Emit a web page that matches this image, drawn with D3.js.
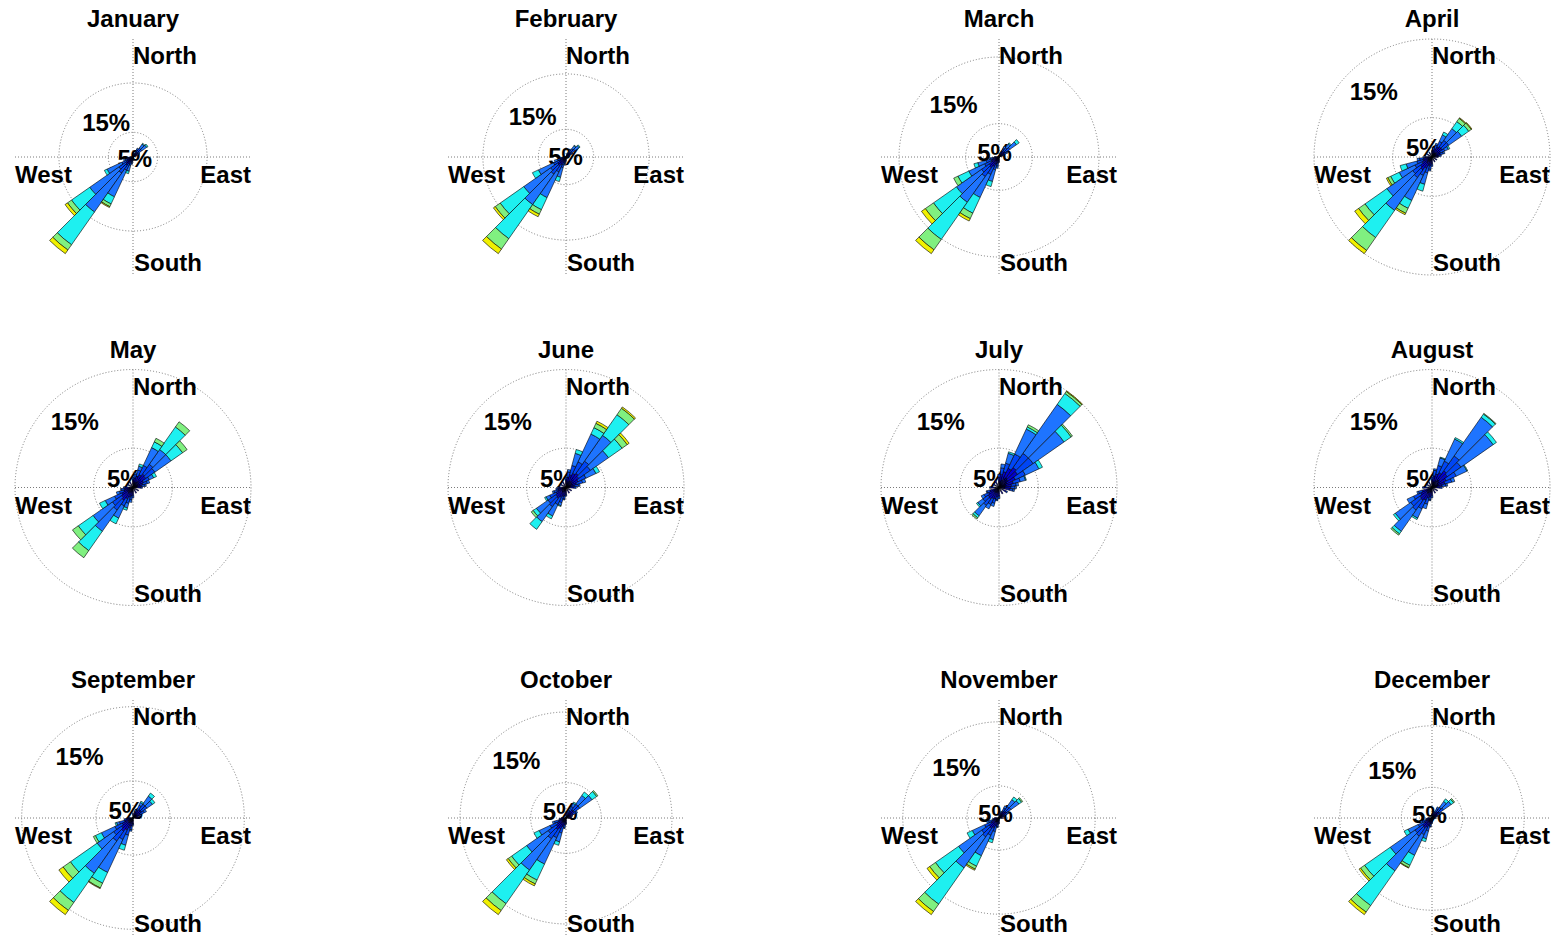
<!DOCTYPE html>
<meta charset="utf-8">
<style>
    body { margin: 0; background: #fff; }
    text {
        font-family: "Liberation Sans", Arial, sans-serif;
        font-weight: bold;
        font-size: 24px;
        fill: #000;
    }
</style>
<body>
<script src="https://cdn.jsdelivr.net/npm/d3@7"></script>
<script>
var months = ["January", "February", "March", "April", "May", "June",
    "July", "August", "September", "October", "November", "December"];
var rings = [5, 15];
var ringLabels = ["5%", "15%"];
var speedColors = ["#000078", "#0000d2", "#0046f5", "#1e74ff", "#1ef0f0", "#80f080", "#f0f000"];

// rows: [direction in degrees, % for each speed class, slowest first]
var jan = [
    [220, 0.8, 1.2, 2.0, 9.6, 8.1, 1.3, 0.9],
    [230, 0.7, 1.1, 1.7, 7.2, 4.5, 1.0, 0.6],
    [210, 0.6, 0.9, 1.5, 5.9, 1.6, 0.6, 0.2],
    [240, 0.5, 0.8, 1.2, 3.3, 0.6],
    [200, 0.4, 0.6, 0.8, 1.2, 0.5],
    [250, 0.4, 0.6, 0.6, 0.4],
    [190, 0.4, 0.5, 0.4, 0.2],
    [260, 0.4, 0.4, 0.3, 0.1],
    [30, 0.4, 0.6, 0.6, 0.4],
    [40, 0.4, 0.8, 1.0, 1.0, 0.2],
    [50, 0.4, 0.8, 1.0, 1.2, 0.3],
    [60, 0.4, 0.5, 0.4, 0.2],
    [20, 0.3, 0.3, 0.2],
    [70, 0.3, 0.3, 0.2],
    [180, 0.3, 0.3, 0.2],
    [270, 0.3, 0.2, 0.1]
];
var feb = [
    [220, 0.8, 1.2, 1.8, 6.7, 7.5, 2.3, 1.0],
    [230, 0.7, 1.1, 1.6, 5.9, 5.2, 1.1, 0.4],
    [210, 0.6, 1.0, 1.4, 5.1, 2.4, 0.9, 0.5],
    [240, 0.5, 0.8, 1.2, 3.0, 1.2],
    [200, 0.4, 0.7, 0.9, 1.8, 0.8],
    [250, 0.4, 0.6, 0.6, 0.6],
    [190, 0.4, 0.5, 0.4, 0.2],
    [260, 0.3, 0.4, 0.3],
    [30, 0.4, 0.5, 0.5, 0.2],
    [40, 0.4, 0.6, 0.8, 0.7, 0.1],
    [50, 0.4, 0.7, 0.9, 0.9, 0.2],
    [60, 0.4, 0.5, 0.4, 0.1],
    [20, 0.3, 0.3, 0.2],
    [70, 0.3, 0.3, 0.1],
    [180, 0.3, 0.3, 0.2]
];
var mar = [
    [220, 0.8, 1.2, 1.6, 4.7, 6.8, 1.9, 0.7],
    [230, 0.7, 1.1, 1.4, 4.6, 4.2, 1.5, 0.7],
    [210, 0.6, 1.0, 1.3, 3.8, 2.6, 0.9, 0.4],
    [240, 0.5, 0.8, 1.1, 2.6, 1.8, 0.7],
    [250, 0.4, 0.7, 0.9, 1.3, 0.6],
    [200, 0.4, 0.7, 0.9, 1.8, 0.8],
    [190, 0.4, 0.5, 0.5, 0.3],
    [260, 0.4, 0.5, 0.4, 0.2],
    [30, 0.4, 0.5, 0.5, 0.4],
    [40, 0.4, 0.6, 0.7, 0.7, 0.2],
    [50, 0.4, 0.7, 0.9, 1.2, 0.5],
    [60, 0.4, 0.5, 0.4, 0.2],
    [20, 0.3, 0.3, 0.2],
    [70, 0.3, 0.3, 0.2],
    [180, 0.3, 0.3, 0.2],
    [270, 0.3, 0.3, 0.1]
];
var apr = [
    [220, 0.9, 1.1, 1.2, 5.1, 4.2, 2.0, 0.5],
    [230, 0.8, 1.0, 1.2, 4.0, 3.4, 1.0, 0.6],
    [210, 0.7, 0.9, 1.0, 3.5, 1.1, 0.7, 0.2],
    [240, 0.6, 0.8, 1.0, 2.2, 1.2, 0.4, 0.2],
    [250, 0.5, 0.7, 0.8, 1.4, 0.8],
    [200, 0.5, 0.7, 0.9, 1.5, 0.9],
    [190, 0.5, 0.6, 0.5, 0.2],
    [260, 0.5, 0.6, 0.5, 0.3],
    [40, 0.7, 0.9, 1.0, 1.8, 1.1, 0.5, 0.1],
    [50, 0.7, 0.9, 1.0, 2.0, 1.1, 0.4, 0.1],
    [30, 0.6, 0.8, 0.8, 0.9, 0.4],
    [60, 0.5, 0.7, 0.6, 0.5, 0.2],
    [20, 0.5, 0.6, 0.5, 0.2],
    [70, 0.5, 0.6, 0.4, 0.2],
    [10, 0.4, 0.5, 0.3],
    [80, 0.4, 0.5, 0.3],
    [180, 0.4, 0.5, 0.3],
    [270, 0.4, 0.5, 0.2],
    [0, 0.4, 0.4], [90, 0.4, 0.4], [120, 0.4, 0.3], [150, 0.4, 0.3], [300, 0.4, 0.3], [330, 0.4, 0.3]
];
var may = [
    [220, 0.9, 1.1, 1.5, 3.3, 3.0, 1.1],
    [230, 0.8, 1.0, 1.4, 3.0, 2.3, 0.9],
    [210, 0.7, 0.9, 1.0, 1.7, 0.8],
    [240, 0.7, 0.9, 1.0, 1.3, 0.8],
    [200, 0.6, 0.7, 0.8, 0.6, 0.3],
    [250, 0.5, 0.7, 0.6, 0.4],
    [40, 1.0, 1.1, 1.5, 2.3, 3.5, 0.8],
    [50, 0.9, 1.1, 1.4, 2.5, 1.8, 0.7],
    [30, 0.8, 1.0, 1.3, 2.5, 0.8, 0.5],
    [20, 0.7, 0.8, 0.8, 0.5, 0.3],
    [60, 0.7, 0.8, 0.8, 0.6, 0.4],
    [70, 0.6, 0.7, 0.6, 0.3],
    [10, 0.6, 0.6, 0.5, 0.2],
    [80, 0.5, 0.6, 0.4, 0.2],
    [190, 0.5, 0.6, 0.5, 0.3],
    [260, 0.5, 0.6, 0.4, 0.1],
    [0, 0.5, 0.5, 0.3], [90, 0.5, 0.5, 0.2], [180, 0.5, 0.5, 0.3], [270, 0.5, 0.5, 0.2],
    [120, 0.4, 0.4], [150, 0.4, 0.4], [300, 0.4, 0.4], [330, 0.4, 0.4]
];
var jun = [
    [40, 1.0, 1.2, 1.9, 4.0, 3.2, 1.0, 0.2],
    [50, 0.9, 1.1, 1.8, 2.8, 2.1, 0.8, 0.3],
    [30, 0.9, 1.1, 1.6, 3.9, 0.9, 0.6, 0.3],
    [20, 0.8, 0.9, 1.2, 1.6, 0.5],
    [60, 0.8, 0.9, 1.1, 1.4, 0.5],
    [70, 0.6, 0.8, 0.8, 0.4],
    [10, 0.6, 0.7, 0.7, 0.3],
    [80, 0.5, 0.6, 0.5, 0.2],
    [220, 0.7, 1.0, 1.3, 2.3, 1.2],
    [230, 0.7, 0.9, 1.2, 1.8, 0.5, 0.3],
    [210, 0.6, 0.8, 1.0, 1.6, 0.4],
    [240, 0.6, 0.8, 0.9, 0.5, 0.2],
    [200, 0.5, 0.7, 0.8, 0.4, 0.1],
    [250, 0.5, 0.6, 0.5, 0.2],
    [190, 0.5, 0.6, 0.4, 0.1],
    [260, 0.5, 0.5, 0.3],
    [0, 0.5, 0.5, 0.3], [90, 0.5, 0.5, 0.3], [180, 0.4, 0.5, 0.2], [270, 0.4, 0.5, 0.2],
    [120, 0.4, 0.4], [150, 0.4, 0.4], [300, 0.4, 0.4], [330, 0.4, 0.4]
];
var jul = [
    [40, 1.5, 1.6, 2.2, 7.6, 1.7, 0.3, 0.1],
    [50, 1.4, 1.5, 2.4, 4.8, 1.1, 0.2],
    [30, 1.3, 1.4, 2.0, 3.5, 0.3, 0.3],
    [60, 1.1, 1.2, 1.4, 1.9, 0.5],
    [20, 1.0, 1.1, 1.1, 1.3, 0.2],
    [70, 0.9, 1.0, 0.9, 0.7, 0.1],
    [10, 0.8, 0.9, 0.8, 0.5],
    [80, 0.8, 0.8, 0.6, 0.3],
    [90, 0.7, 0.8, 0.5, 0.2],
    [100, 0.7, 0.7, 0.4, 0.2],
    [220, 0.8, 1.0, 1.0, 1.6, 0.3, 0.2],
    [230, 0.8, 0.9, 0.8, 0.8, 0.2],
    [210, 0.7, 0.9, 0.8, 0.6],
    [240, 0.7, 0.8, 0.6, 0.4],
    [200, 0.7, 0.8, 0.6, 0.4],
    [250, 0.6, 0.6, 0.4, 0.1],
    [190, 0.6, 0.6, 0.4, 0.1],
    [0, 0.6, 0.7, 0.4], [180, 0.5, 0.6, 0.3], [270, 0.5, 0.5, 0.2],
    [120, 0.5, 0.5, 0.2], [150, 0.5, 0.4], [300, 0.5, 0.4], [330, 0.5, 0.5]
];
var aug = [
    [40, 1.2, 1.4, 2.3, 6.0, 0.5, 0.1],
    [50, 1.1, 1.3, 2.1, 5.0, 0.5],
    [30, 1.0, 1.1, 1.6, 3.1, 0.2],
    [60, 0.9, 1.1, 1.4, 1.5, 0.1],
    [20, 0.8, 1.0, 1.1, 1.0, 0.1],
    [70, 0.8, 0.9, 0.9, 0.4],
    [10, 0.7, 0.8, 0.7, 0.2],
    [80, 0.6, 0.7, 0.5, 0.2],
    [220, 0.9, 1.1, 1.5, 3.3, 0.4, 0.2],
    [230, 0.8, 1.1, 1.4, 2.4, 0.3],
    [210, 0.8, 1.0, 1.2, 1.3, 0.2],
    [240, 0.7, 0.9, 1.0, 0.9],
    [200, 0.6, 0.8, 0.8, 0.6],
    [250, 0.6, 0.7, 0.5, 0.2],
    [190, 0.6, 0.6, 0.4, 0.1],
    [0, 0.5, 0.5, 0.3], [90, 0.5, 0.5, 0.3], [180, 0.5, 0.5, 0.3], [270, 0.5, 0.5, 0.2],
    [120, 0.4, 0.4], [150, 0.4, 0.4], [300, 0.4, 0.4], [330, 0.4, 0.4]
];
var sep = [
    [220, 0.9, 1.3, 1.6, 5.3, 4.8, 1.3, 0.7],
    [230, 0.8, 1.1, 1.3, 2.7, 4.4, 1.2, 0.7],
    [210, 0.8, 1.0, 1.4, 4.9, 1.6, 0.7, 0.1],
    [240, 0.7, 0.9, 1.1, 2.0, 0.9, 0.3],
    [200, 0.6, 0.8, 1.0, 1.4, 0.7],
    [250, 0.5, 0.7, 0.7, 0.4, 0.2],
    [190, 0.5, 0.6, 0.5, 0.2],
    [260, 0.4, 0.5, 0.3],
    [40, 0.6, 0.8, 0.9, 1.3, 0.5],
    [50, 0.6, 0.8, 0.9, 0.9, 0.4],
    [30, 0.5, 0.7, 0.7, 0.4, 0.2],
    [60, 0.5, 0.6, 0.6, 0.3],
    [20, 0.4, 0.5, 0.3],
    [70, 0.4, 0.5, 0.3],
    [0, 0.4, 0.3], [90, 0.4, 0.3], [180, 0.4, 0.4, 0.2], [270, 0.4, 0.3]
];
var oct = [
    [220, 0.8, 1.2, 1.6, 5.4, 5.8, 1.2, 0.7],
    [230, 0.7, 1.0, 1.4, 3.7, 2.6, 0.6, 0.3],
    [210, 0.7, 1.0, 1.4, 4.1, 2.5, 0.6, 0.3],
    [240, 0.6, 0.8, 1.1, 1.7, 0.8],
    [200, 0.6, 0.7, 0.9, 1.3, 0.5],
    [250, 0.5, 0.6, 0.6, 0.3],
    [190, 0.5, 0.5, 0.4, 0.1],
    [50, 0.6, 0.8, 1.0, 2.1, 0.8, 0.2],
    [40, 0.6, 0.8, 1.0, 1.5, 0.6],
    [30, 0.5, 0.6, 0.7, 0.5, 0.2],
    [60, 0.5, 0.6, 0.5, 0.2],
    [20, 0.4, 0.4, 0.3],
    [70, 0.4, 0.4, 0.2],
    [0, 0.4, 0.3], [90, 0.4, 0.3], [180, 0.4, 0.3, 0.2], [260, 0.4, 0.4, 0.2], [270, 0.4, 0.3]
];
var nov = [
    [220, 0.8, 1.2, 1.6, 5.9, 6.9, 1.4, 0.6],
    [230, 0.8, 1.1, 1.4, 4.4, 4.4, 1.1, 0.5],
    [210, 0.7, 1.0, 1.3, 3.5, 1.8, 0.5, 0.2],
    [240, 0.6, 0.8, 1.1, 2.1, 0.9],
    [200, 0.6, 0.7, 0.9, 1.3, 0.5],
    [250, 0.5, 0.6, 0.6, 0.3],
    [190, 0.5, 0.5, 0.4, 0.1],
    [50, 0.6, 0.8, 0.9, 1.5, 0.5, 0.2],
    [40, 0.6, 0.7, 0.9, 1.3, 0.5],
    [30, 0.5, 0.6, 0.6, 0.4],
    [60, 0.5, 0.5, 0.5, 0.2],
    [20, 0.4, 0.4, 0.3],
    [70, 0.4, 0.4, 0.2],
    [0, 0.4, 0.3], [90, 0.4, 0.3], [180, 0.4, 0.3, 0.2], [260, 0.4, 0.4, 0.2], [270, 0.4, 0.3]
];
var dec = [
    [220, 0.8, 1.2, 1.6, 6.9, 6.9, 1.3, 0.5],
    [230, 0.8, 1.1, 1.5, 4.9, 5.1, 0.8, 0.3],
    [210, 0.7, 1.0, 1.3, 3.7, 1.8, 0.4, 0.1],
    [240, 0.6, 0.8, 1.1, 1.8, 0.7],
    [200, 0.6, 0.7, 0.9, 1.3, 0.5],
    [250, 0.5, 0.6, 0.6, 0.3],
    [190, 0.5, 0.5, 0.4, 0.1],
    [50, 0.6, 0.8, 0.9, 1.5, 0.5, 0.2],
    [40, 0.6, 0.7, 0.8, 1.2, 0.5],
    [30, 0.5, 0.6, 0.6, 0.3],
    [60, 0.5, 0.5, 0.5, 0.2],
    [20, 0.4, 0.4, 0.3],
    [70, 0.4, 0.4, 0.2],
    [0, 0.4, 0.3], [90, 0.4, 0.3], [180, 0.4, 0.3, 0.2], [260, 0.4, 0.4, 0.2], [270, 0.4, 0.3]
];
var roses = [jan, feb, mar, apr, may, jun, jul, aug, sep, oct, nov, dec];

var width = 1552, height = 938;
var R = 118;          // radius of the axes in px
var sector = 10;      // degrees per direction bin
var rad = Math.PI / 180;

var svg = d3.select("body").append("svg")
    .attr("width", width)
    .attr("height", height);

var colX = d3.scalePoint().domain(d3.range(4)).range([133, 1432]);
var rowY = d3.scalePoint().domain(d3.range(3)).range([157, 818]);

roses.forEach(function(rows, i) {
    var g = svg.append("g")
        .attr("transform", "translate(" + colX(i % 4) + "," + rowY(Math.floor(i / 4)) + ")");

    var maxTotal = d3.max(rows, function(d) { return d3.sum(d.slice(1)); });
    var r = d3.scaleLinear().domain([0, Math.max(15, maxTotal)]).range([0, R]);

    //dotted axes and rings
    g.append("line").attr("x1", -R).attr("x2", R).attr("y1", 0).attr("y2", 0);
    g.append("line").attr("x1", 0).attr("x2", 0).attr("y1", -R).attr("y2", R);
    g.selectAll("circle")
        .data(rings)
        .enter()
        .append("circle")
        .attr("r", function(d) { return r(d); });
    g.selectAll("line, circle")
        .attr("fill", "none")
        .attr("stroke", "#7a7a7a")
        .attr("stroke-width", 1)
        .attr("stroke-dasharray", "1,2");

    //ring labels sit up-left of each ring
    g.selectAll(".ring-label")
        .data(rings)
        .enter()
        .append("text")
        .attr("class", "ring-label")
        .attr("x", function(d) { return -r(d) * 0.714 + 2; })
        .attr("y", function(d) { return -r(d) * 0.72 + 27.5; })
        .text(function(d, k) { return ringLabels[k]; });

    g.append("text").attr("x", 0).attr("y", -93).text("North");
    g.append("text").attr("x", 1).attr("y", 114).text("South");
    g.append("text").attr("x", -R).attr("y", 26).text("West");
    g.append("text").attr("x", R).attr("y", 26).attr("text-anchor", "end").text("East");
    g.append("text").attr("x", 0).attr("y", -130).attr("text-anchor", "middle").text(months[i]);

    //stack the speed classes of each direction
    var wedges = [];
    rows.forEach(function(row) {
        var acc = 0;
        row.slice(1).forEach(function(v, k) {
            if (v > 0) wedges.push({dir: row[0], k: k, r0: acc, r1: acc + v});
            acc += v;
        });
    });

    var arc = d3.arc()
        .innerRadius(function(d) { return r(d.r0); })
        .outerRadius(function(d) { return r(d.r1); })
        .startAngle(function(d) { return (d.dir - sector / 2) * rad; })
        .endAngle(function(d) { return (d.dir + sector / 2) * rad; });

    g.selectAll(".wedge")
        .data(wedges)
        .enter()
        .append("path")
        .attr("class", "wedge")
        .attr("d", arc)
        .attr("fill", function(d) { return speedColors[d.k]; })
        .attr("stroke", "#000")
        .attr("stroke-width", 0.6);
});
</script>
